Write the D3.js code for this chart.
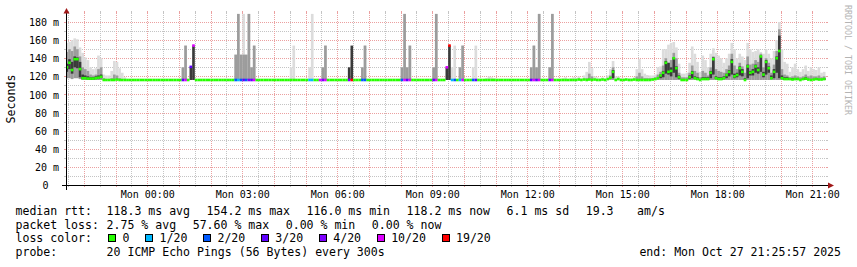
<!DOCTYPE html>
<html>
<head>
<meta charset="utf-8">
<script src="https://cdn.jsdelivr.net/npm/d3@7"></script>
<style>
  body { margin: 0; background: #fff; }
  svg { display: block; font-family: "DejaVu Sans Mono", monospace; }
</style>
</head>
<body>
<div id="chart"></div>
<script>
// one value per 5 minute step, 12 steps per row (one hour), first row starts Sun 21:25
var median = [
  130,135,127,139,139,128,118,118,117.5,117.5,117.5,118,
  118.5,119.5,116,116,116,116,116,116.5,116,116,116,116,
  116,116,116,116,116,116,116,116,116,116,116,116,
  116,116,116,116,116,116,116,116,116,116,116,130.5,
  154,116,116,116,116,116,116,116,116,116,116,116,
  116,116,116,116,116,116,116,116,116,116,116,116,
  116,116,116,116,116,116,116,116,116,116,116,116,
  116,116,116,116,116,116,116,116,116,116,116,116,
  116,116,116,116,116,116,116,116,116,116,116,116,
  116,116,116,116,116,116,116,116,116,116,116,116,
  116,116,116,116,116,116,116,116,116,116,116,116,
  116,116,116,116,116,116,116,116,116,116,116,116,
  130,154,116,116,116,116,116,116,116,116,116,116,
  116,116,116,116,116,116,116,116,116,116,116,116,
  116,116,116,116,116,116,116,116,116,116,116,116,
  116,116,116,116,116,116,116,116,116,116,116,116,
  116,116,116.5,116,116.5,116,116.5,116,116.5,116,116,116.5,
  116,117,118.5,125,116,117,116,116,116.5,116,116,116.5,
  116,116,116,116,116,116,116.5,117,118,121,124,135,
  125,126,140,129,119,116,116,116,119,124,118,117,
  116,117,117,117,124,139,118,117,117,118,121.5,125,
  136,120,121.5,129,125,116,131,124,125,131,127,142,
  122,136,129,118,125,140,148,118,117,117,117,116.5,
  117,117,116,117,117.5,116.5,116,116.5,117,116.5,116.5,117
];

var lossCount = [
  0,0,0,0,0,0,0,0,0,0,0,0,
  0,0,0,0,0,0,0,0,0,0,0,0,
  0,0,0,0,0,0,0,0,0,0,0,0,
  0,0,0,0,0,0,0,0,3,10,0,3,
  10,0,0,0,0,0,0,0,0,0,0,0,
  0,0,0,0,2,1,2,3,2,4,3,10,
  0,0,0,0,0,0,0,0,0,0,0,0,
  0,0,0,0,0,0,0,0,1,1,0,0,
  10,4,10,0,0,0,0,0,0,0,0,4,
  19,0,0,0,2,2,0,0,0,0,0,0,
  0,0,0,0,0,0,0,2,10,3,10,0,
  0,0,0,0,0,0,0,3,10,0,0,0,
  10,19,1,2,0,1,10,0,0,0,2,3,
  0,0,0,0,0,0,0,0,0,0,0,0,
  0,0,0,0,0,0,0,0,3,10,3,10,
  0,0,0,4,10,0,0,0,0,0,0,0,
  0,0,0,0,0,0,0,0,0,0,0,0,
  0,0,0,0,0,0,0,0,0,0,0,0,
  0,0,0,0,0,0,0,0,0,0,0,0,
  0,0,0,0,0,0,0,0,0,0,0,0,
  0,0,0,0,0,0,0,0,0,0,0,0,
  0,0,0,0,0,0,0,0,0,0,0,0,
  0,0,0,0,0,0,0,0,0,0,0,0,
  0,0,0,0,0,0,0,0,0,0,0,0
];

// smoke: 0 = nothing drawn for that step
var smokeLo = [
  118,118,117,118,118,117,116,116,116,116,116,116,
  116,116,116,116,116,116,116,116,116,116,116,0,
  0,0,0,0,0,0,0,0,0,0,0,0,
  0,0,0,0,0,0,0,0,116,116,0,116,
  116,0,0,0,0,0,0,0,0,0,0,0,
  0,0,0,0,116,116,116,116,116,116,116,116,
  0,0,0,0,0,0,0,0,0,0,0,0,
  0,116,116,0,0,0,0,0,116,116,0,0,
  0,116,116,0,0,0,0,0,0,0,0,116,
  116,0,0,0,116,116,0,0,0,0,0,0,
  0,0,0,0,0,0,0,116,116,116,116,0,
  0,0,0,0,0,0,0,116,116,0,0,0,
  116,116,116,116,0,116,116,0,0,0,116,116,
  0,0,0,116,116,116,116,0,0,0,0,0,
  0,0,0,0,0,0,0,0,116,116,116,116,
  0,0,0,116,116,0,0,0,116,116,0,116,
  116,116,116,116,116,116,116,116,116,116,116,116,
  116,116,116,116,116,116,116,116,116,116,116,116,
  116,116,116,116,116,116,116,116,116,116,116,116,
  116,116,116,116,116,116,116,116,116,116,116,116,
  116,116,116,116,116,116,116,116,116,116,116,116,
  116,116,116,116,116,116,116,116,116,116,116,116,
  116,116,116,116,116,116,116,116,116,116,116,116,
  116,116,116,116,116,116,116,116,116,116,116,116
];

var smokeHi = [
  157,158,160,162,161,152,146,141,138,130,128,129,
  143,140,122,121,121,126,137,136,129,124,119,0,
  0,0,0,0,0,0,0,0,0,0,0,0,
  0,0,0,0,0,0,0,0,130,154,0,0,
  0,0,0,0,0,0,0,0,0,0,0,0,
  0,0,0,0,144,189,144,189,144,189,130,154,
  0,0,0,0,0,0,0,0,0,0,0,0,
  0,130,154,0,0,0,0,0,130,189,0,0,
  0,130,154,0,0,0,0,0,0,0,0,0,
  0,0,0,0,130,154,0,0,0,0,0,0,
  0,0,0,0,0,0,0,130,189,130,154,0,
  0,0,0,0,0,0,0,130,189,0,0,0,
  0,0,130,154,0,130,154,0,0,0,130,154,
  0,0,0,118,120,119,118,0,0,0,0,0,
  0,0,0,0,0,0,0,0,130,154,130,189,
  0,0,0,130,189,0,0,0,118,119,0,118,
  119,118,120,118,121,125,136,129,120,119,118,119,
  118,121,128,137,120,120,118,118,117,118,118,119,
  128,139,128,123,121.5,121,121,122,130,131,150,150,
  155,157,158,152,134,123,123,124,135,153,145,136,
  125,143,138,130,145,151,146,143,140,135,140,145,
  157,150,140,145,142,138,157,150,147,148,150,147,
  145,150,145,140,148,160,180,150,136,134,125,130,
  134,128,125,128,132,126,130,128,127,130,124,125
];

var midHi = [
  147,150,148,153,150,142,130,128,126,122,121,122,
  128,130,118,117,117,118,122,121,118,117,0,0,
  0,0,0,0,0,0,0,0,0,0,0,0,
  0,0,0,0,0,0,0,0,130,154,0,0,
  0,0,0,0,0,0,0,0,0,0,0,0,
  0,0,0,0,144,189,144,144,144,189,130,154,
  0,0,0,0,0,0,0,0,0,0,0,0,
  0,0,0,0,0,0,0,0,0,0,0,0,
  0,130,154,0,0,0,0,0,0,0,0,0,
  0,0,0,0,130,154,0,0,0,0,0,0,
  0,0,0,0,0,0,0,130,189,130,154,0,
  0,0,0,0,0,0,0,130,189,0,0,0,
  0,0,0,0,0,130,154,0,0,0,0,0,
  0,0,0,0,0,0,0,0,0,0,0,0,
  0,0,0,0,0,0,0,0,130,154,130,189,
  0,0,0,130,189,0,0,0,0,0,0,0,
  0,0,0,0,0,118,123,120,0,0,0,0,
  0,0,121,130,0,0,0,0,0,0,0,0,
  120,124,120,118,118,118,118,119,122,125,132,140,
  135,138,146,140,124,119,119,119,124,132,126,124,
  119,126,124,121,130,142,128,126,125,124,128,132,
  145,132,128,135,131,124,142,133,134,138,136,145,
  130,140,135,124,133,148,172,128,122,121,119,120,
  121,120,119,120,122,120,121,120,120,121,119,120
];

var coreLo = [
  125,128,123,130,129,119,117,117,116,116,116,117,
  117,118,0,0,0,0,0,0,0,0,0,0,
  0,0,0,0,0,0,0,0,0,0,0,0,
  0,0,0,0,0,0,0,0,0,0,0,116,
  116,0,0,0,0,0,0,0,0,0,0,0,
  0,0,0,0,0,0,0,0,0,0,0,0,
  0,0,0,0,0,0,0,0,0,0,0,0,
  0,0,0,0,0,0,0,0,0,0,0,0,
  0,0,0,0,0,0,0,0,0,0,0,116,
  116,0,0,0,0,0,0,0,0,0,0,0,
  0,0,0,0,0,0,0,0,0,0,0,0,
  0,0,0,0,0,0,0,0,0,0,0,0,
  116,116,0,0,0,0,0,0,0,0,0,0,
  0,0,0,0,0,0,0,0,0,0,0,0,
  0,0,0,0,0,0,0,0,0,0,0,0,
  0,0,0,0,0,0,0,0,0,0,0,0,
  0,0,0,0,0,0,0,0,0,0,0,0,
  0,0,0,118,0,0,0,0,0,0,0,0,
  0,0,0,0,0,0,0,0,0,118,119,123,
  122,120,124,119,117,0,0,0,117,118,117,116,
  0,116,116,116,118,122,117,116,116,117,118,120,
  122,118,119,121,120,116,118,121,121,124,123,125,
  119,122,124,117,118,124,118,117,116,116,116,116,
  116,116,0,116,116,0,0,0,116,0,0,116
];

var coreHi = [
  134,139,136,142,141,136,122,121,120,119,119,120,
  121,122,0,0,0,0,0,0,0,0,0,0,
  0,0,0,0,0,0,0,0,0,0,0,0,
  0,0,0,0,0,0,0,0,0,0,0,130.5,
  154,0,0,0,0,0,0,0,0,0,0,0,
  0,0,0,0,0,0,0,0,0,0,0,0,
  0,0,0,0,0,0,0,0,0,0,0,0,
  0,0,0,0,0,0,0,0,0,0,0,0,
  0,0,0,0,0,0,0,0,0,0,0,130,
  154,0,0,0,0,0,0,0,0,0,0,0,
  0,0,0,0,0,0,0,0,0,0,0,0,
  0,0,0,0,0,0,0,0,0,0,0,0,
  130,154,0,0,0,0,0,0,0,0,0,0,
  0,0,0,0,0,0,0,0,0,0,0,0,
  0,0,0,0,0,0,0,0,0,0,0,0,
  0,0,0,0,0,0,0,0,0,0,0,0,
  0,0,0,0,0,0,0,0,0,0,0,0,
  0,0,0,127,0,0,0,0,0,0,0,0,
  0,0,0,0,0,0,0,0,0,122,126,137,
  135,130,141,131,121,0,0,0,121,126,120,119,
  0,119,119,119,126,141,120,119,119,120,123,127,
  139,123,124,131,128,118,133,126,128,133,130,143,
  125,138,131,121,128,142,165,121,119,119,118,118,
  118,118,0,118,119,0,0,0,118,0,0,118
];

var yTicks = [0, 20, 40, 60, 80, 100, 120, 140, 160, 180];
var lossThresholds = [0, 1, 2, 3, 4, 10, 19];
var lossLabels = ['0', '1/20', '2/20', '3/20', '4/20', '10/20', '19/20'];
var lossColors = ['#26ff00', '#00b8ff', '#0059ff', '#5e00ff', '#7e00ff', '#dd00ff', '#ff0000'];
var rttItems = ['median rtt:', '118.3 ms avg', '154.2 ms max', '116.0 ms min', '118.2 ms now', '6.1 ms sd', '19.3', ' am/s'];
var lossItems = ['packet loss:', '2.75 % avg', '57.60 % max', '0.00 % min', '0.00 % now'];
var probeItems = ['probe:', '20 ICMP Echo Pings (56 Bytes) every 300s'];
var endText = 'end: Mon Oct 27 21:25:57 2025';

var width = 857, height = 267;
var margin = {left: 66, right: 31, top: 13, bottom: 82};
var tEnd = Date.UTC(2025, 9, 27, 21, 25, 57);
var tStart = tEnd - 86400000;
var stepZero = Date.UTC(2025, 9, 26, 21, 25, 0);
var stepMs = 300000;

var x = d3.scaleUtc()
  .domain([new Date(tStart), new Date(tEnd)])
  .range([margin.left, width - margin.right]);
var y = d3.scaleLinear()
  .domain([0, 190])
  .range([height - margin.bottom, margin.top]);

var X0 = margin.left, X1 = width - margin.right;
var Y0 = height - margin.bottom, Y1 = margin.top;

var svg = d3.select('#chart').append('svg')
  .attr('width', width).attr('height', height);
svg.append('rect').attr('width', width).attr('height', height).attr('fill', '#fff');

// grid
var gridMinor = '#c4c4c4';
var gridMajor = '#eba0a0';
var grid = svg.append('g').attr('shape-rendering', 'crispEdges');

var hLines = d3.range(10, 190, 10);
hLines.forEach(function(v){
  var yy = Math.round(y(v)) + 0.5;
  var col = (v % 20 === 0) ? gridMajor : gridMinor;
  grid.append('line').attr('x1', X0).attr('x2', X1).attr('y1', yy).attr('y2', yy)
    .attr('stroke', col).attr('stroke-dasharray', '1,1');
  grid.append('line').attr('x1', X0 - 2).attr('x2', X0).attr('y1', yy).attr('y2', yy).attr('stroke', col);
  grid.append('line').attr('x1', X1).attr('x2', X1 + 2).attr('y1', yy).attr('y2', yy).attr('stroke', col);
});

var vTimes = d3.utcMinute.every(30).range(new Date(tStart), new Date(tEnd));
vTimes.forEach(function(t){
  var xx = Math.round(x(t)) + 0.5;
  var col = (t.getUTCMinutes() === 0) ? gridMajor : gridMinor;
  grid.append('line').attr('x1', xx).attr('x2', xx).attr('y1', Y1).attr('y2', Y0)
    .attr('stroke', col).attr('stroke-dasharray', '1,1');
  grid.append('line').attr('x1', xx).attr('x2', xx).attr('y1', Y0).attr('y2', Y0 + 2).attr('stroke', col);
  grid.append('line').attr('x1', xx).attr('x2', xx).attr('y1', Y1 - 2).attr('y2', Y1).attr('stroke', col);
});

// smoke and median
var steps = d3.range(median.length);
function sx0(k){ return Math.max(X0, x(new Date(stepZero + k * stepMs))); }
function sx1(k){ return Math.min(X1, x(new Date(stepZero + (k + 1) * stepMs))); }
function lossColor(n){
  var c = lossColors[0];
  lossThresholds.forEach(function(t, i){ if (n >= t) c = lossColors[i]; });
  return c;
}

var plot = svg.append('g');
function band(lo, hi, color){
  plot.append('g').selectAll('rect')
    .data(steps.filter(function(k){ return hi[k] > 0 && lo[k] > 0; }))
    .enter().append('rect')
    .attr('x', sx0)
    .attr('width', function(k){ return sx1(k) - sx0(k); })
    .attr('y', function(k){ return y(hi[k]); })
    .attr('height', function(k){ return Math.max(0, y(lo[k]) - y(hi[k])); })
    .attr('fill', color);
}
band(smokeLo, smokeHi, '#dcdcdc');
band(smokeLo, midHi, '#9c9c9c');
band(coreLo, coreHi, '#3a3a3a');

plot.append('g').selectAll('rect')
  .data(steps).enter().append('rect')
  .attr('x', sx0)
  .attr('width', function(k){ return sx1(k) - sx0(k); })
  .attr('y', function(k){ return y(median[k]) - 1.3; })
  .attr('height', 2.6)
  .attr('fill', function(k){ return lossColor(lossCount[k]); });

// axes
var axis = svg.append('g').attr('shape-rendering', 'crispEdges');
axis.append('line').attr('x1', X0 - 4).attr('x2', X1 + 3).attr('y1', Y0 + 0.5).attr('y2', Y0 + 0.5)
  .attr('stroke', '#000');
axis.append('line').attr('x1', X0 + 0.5).attr('x2', X0 + 0.5).attr('y1', Y0 + 5).attr('y2', Y1 - 2)
  .attr('stroke', '#000');
svg.append('path')
  .attr('d', 'M' + (X1 + 2) + ',' + (Y0 - 2.5) + 'L' + (X1 + 8) + ',' + (Y0 + 0.5) + 'L' + (X1 + 2) + ',' + (Y0 + 3.5) + 'Z')
  .attr('fill', '#a01818');
svg.append('path')
  .attr('d', 'M' + (X0 - 2.5) + ',' + (Y1 + 0.5) + 'L' + (X0 + 0.5) + ',' + (Y1 - 5) + 'L' + (X0 + 3.5) + ',' + (Y1 + 0.5) + 'Z')
  .attr('fill', '#a01818');

var xLabelTimes = d3.utcHour.every(3).range(new Date(tStart), new Date(tEnd));
var xAxis = d3.axisBottom(x).tickValues(xLabelTimes)
  .tickFormat(d3.utcFormat('%a %H:%M')).tickSize(0).tickPadding(5.4);
svg.append('g').attr('transform', 'translate(0,' + Y0 + ')').call(xAxis)
  .call(function(g){ g.select('.domain').remove(); })
  .attr('font-family', 'DejaVu Sans Mono').attr('font-size', 10)
  .selectAll('text').attr('fill', '#000');

var yAxis = d3.axisLeft(y).tickValues(yTicks)
  .tickFormat(function(v){ return v === 0 ? '0' : v + ' m'; }).tickSize(0).tickPadding(0);
svg.append('g').attr('transform', 'translate(59,0)').call(yAxis)
  .call(function(g){ g.select('.domain').remove(); })
  .attr('font-family', 'DejaVu Sans Mono').attr('font-size', 10)
  .selectAll('text').attr('fill', '#000').attr('dy', '0.36em')
  .attr('dx', function(v){ return v === 0 ? -10.5 : 0; });

svg.append('text')
  .attr('transform', 'translate(15,99) rotate(-90)')
  .attr('text-anchor', 'middle')
  .attr('font-size', 11.6)
  .text('Seconds');

svg.append('text')
  .attr('transform', 'translate(844.5,5) rotate(90)')
  .attr('font-size', 8.3)
  .attr('fill', '#b4b4b4')
  .text('RRDTOOL / TOBI OETIKER');

// legend: items laid out one after another like rrdtool does (label, then value fields)
var cw = 6.95, gap = 16.6, lx = 15.5, valueX = 106.6;
var legend = svg.append('g').attr('font-size', 11.55).attr('fill', '#000');

function itemRow(items, yy){
  var xx = valueX;
  items.forEach(function(txt, i){
    var px = (i === 0) ? lx : xx;
    legend.append('text').attr('x', px).attr('y', yy).style('white-space', 'pre').text(txt);
    if (i > 0) xx += txt.length * cw + gap;
  });
}
itemRow(rttItems, 214.5);
itemRow(lossItems, 228.5);

legend.append('text').attr('x', lx).attr('y', 242).text('loss color:');
var bx = 108;
lossLabels.forEach(function(lab, i){
  legend.append('rect')
    .attr('x', bx + 0.5).attr('y', 234.5)
    .attr('width', 7).attr('height', 7)
    .attr('fill', lossColors[i]).attr('stroke', '#000').attr('stroke-width', 1)
    .attr('shape-rendering', 'crispEdges');
  legend.append('text').attr('x', bx + 14.5).attr('y', 242).text(lab);
  bx += 14.5 + lab.length * cw + 15.6;
});

itemRow(probeItems, 256);
legend.append('text').attr('x', 841).attr('y', 256).attr('text-anchor', 'end').text(endText);
</script>
</body>
</html>
